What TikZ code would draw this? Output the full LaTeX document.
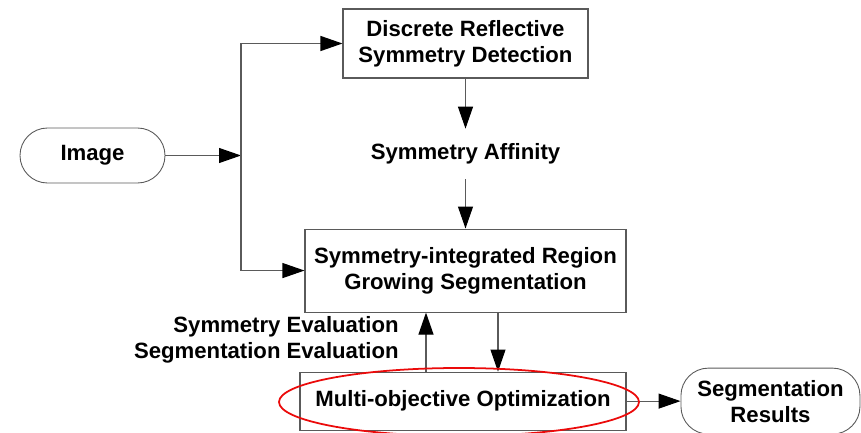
\documentclass[tikz,border=0pt]{standalone}
\usepackage{fontspec}
\setmainfont{Liberation Sans}
\usepackage{xcolor}
\usepackage{tikz}
\usetikzlibrary{arrows.meta,positioning,calc}
\definecolor{mLine}{RGB}{90,90,90}
\definecolor{mRed}{RGB}{235,10,10}
\tikzset{
stagebox/.style={rectangle,draw=mLine,line width=0.6pt,fill=white,align=center,font=\fontsize{12.6}{14.8}\selectfont\bfseries},
terminal/.style={rectangle,rounded corners=0.55cm,draw=mLine,line width=0.5pt,fill=white,align=center,font=\fontsize{12.6}{14.8}\selectfont\bfseries},
plainlabel/.style={align=center,inner sep=0pt,font=\fontsize{12.6}{14.8}\selectfont\bfseries},
arrow/.style={-{Triangle[length=4.4mm,width=3mm,color=black]},line width=0.6pt,draw=mLine},
link/.style={line width=0.6pt,draw=mLine},
highlight/.style={draw=mRed,line width=1pt}
}

\begin{document}
\begin{tikzpicture}[node distance=3.0cm and 1.08cm]
\useasboundingbox (0,0) rectangle (17.22,-8.66);
\node[stagebox,minimum width=4.9cm,minimum height=1.38cm] (detect) at (9.31,-0.87) {Discrete Reflective\\Symmetry Detection};
\node[stagebox,minimum width=6.42cm,minimum height=1.66cm,below=of detect] (grow) {Symmetry-integrated Region\\Growing Segmentation};
\node[stagebox,minimum width=6.52cm,minimum height=1.16cm,below=1.18cm of grow,xshift=-0.05cm] (optim) {Multi-objective Optimization};
\node[terminal,minimum width=3.58cm,minimum height=1.32cm,right=of optim] (results) {Segmentation\\Results};
\node[terminal,minimum width=2.9cm,minimum height=1.1cm] (img) at (1.85,-3.11) {Image};
\node[plainlabel,minimum height=1cm] (affinity) at (9.31,-3.08) {Symmetry Affinity};
\node[plainlabel,align=right,anchor=east] (evals) at (7.98,-6.79) {Symmetry Evaluation\\Segmentation Evaluation};
\coordinate (split) at (4.82,0 |- img.east);
% input fan-out
\draw[arrow] (img.east)--(split);
\draw[link] (split |- detect.west)--(split |- grow.west);
\draw[arrow] (split |- detect.west)--(detect.west);
\draw[arrow] (split |- grow.west)--(grow.west);
% main chain
\draw[arrow] (detect.south)--(affinity.north);
\draw[arrow] (affinity.south)--(grow.north);
\draw[arrow] ([xshift=0.65cm]grow.south)--([xshift=0.65cm]grow.south |- optim.north);
\draw[arrow] ([xshift=-0.79cm]grow.south |- optim.north)--([xshift=-0.79cm]grow.south);
\draw[arrow] (optim.east)--(results.west);
% red mark
\begin{scope}
\clip (0,0) rectangle (17.22,-8.66);
\draw[highlight] (9.18,-8.04) ellipse (3.6cm and 0.68cm);
\end{scope}
\end{tikzpicture}
\end{document}
